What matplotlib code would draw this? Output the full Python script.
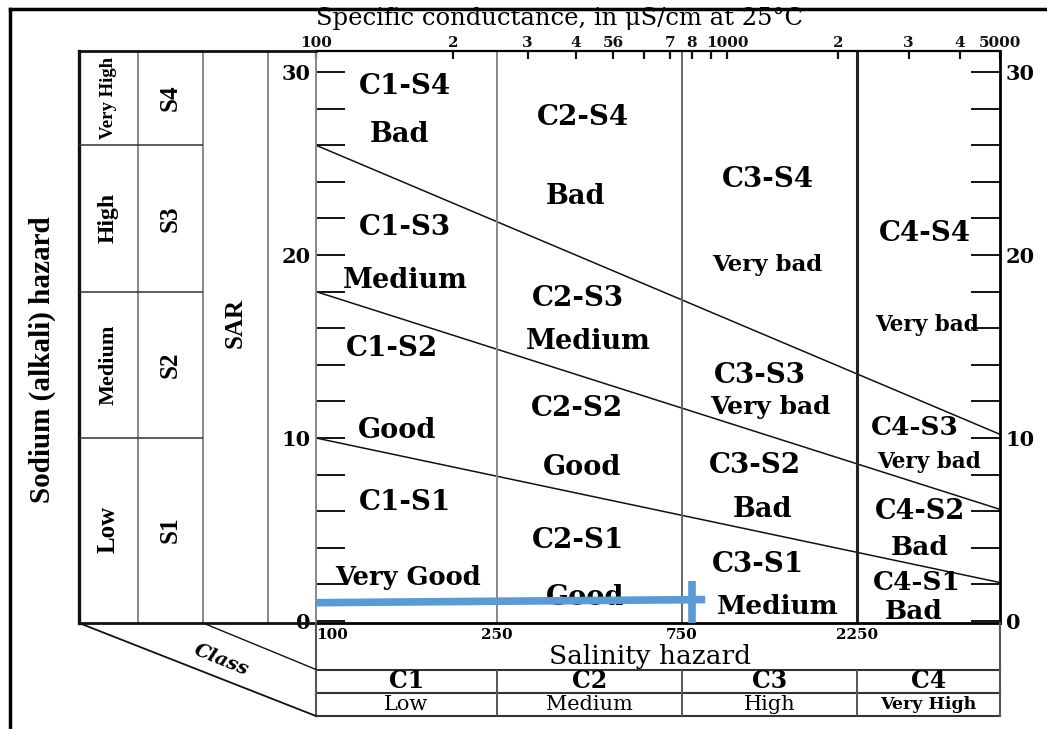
import numpy as np
import matplotlib
matplotlib.use("Agg")
import matplotlib.pyplot as plt
from matplotlib.patches import ConnectionPatch
from matplotlib.lines import Line2D
from matplotlib.ticker import NullLocator

# salinity classes (specific conductance, uS/cm)
ec_edges = [100, 250, 750, 2250, 5000]
c_classes = ["C1", "C2", "C3", "C4"]
c_names = ["Low", "Medium", "High", "Very High"]

# sodium classes (SAR at the left edge of the chart)
sar_edges = [0, 10, 18, 26]
s_classes = ["S1", "S2", "S3", "S4"]
s_names = ["Low", "Medium", "High", "Very High"]

# class boundary lines: SAR at 100 and at 5000 uS/cm
line_sar_left = [10, 18, 26]
line_sar_right = [2.1, 6.1, 10.2]

top_ticks = [100, 200, 300, 400, 500, 600, 700, 800, 900, 1000, 2000, 3000, 4000, 5000]
top_labels = ["100", "2", "3", "4", "56", "", "7", "8", "", "1000", "2", "3", "4", "5000"]
sar_major = [0, 10, 20, 30]
sar_minor = list(range(0, 31, 2))

# zone names
zone_text = ["C1-S4", "Bad", "C1-S3", "Medium", "C1-S2", "Good", "C1-S1", "Very Good",
             "C2-S4", "Bad", "C2-S3", "Medium", "C2-S2", "Good", "C2-S1", "Good",
             "C3-S4", "Very bad", "C3-S3", "Very bad", "C3-S2", "Bad", "C3-S1", "Medium",
             "C4-S4", "Very bad", "C4-S3", "Very bad", "C4-S2", "Bad", "C4-S1", "Bad"]

# sample marker (blue guide lines)
guide_h_ec = [100, 870]
guide_h_sar = [1.0, 1.17]
guide_v_ec = [803, 803]
guide_v_sar = [-0.1, 2.2]

# ---- layout ----
zone_x = [157, 153, 157, 157, 147, 151, 157, 159,
          418, 398, 405, 431, 403, 415, 405, 423,
          1290, 1284, 1228, 1308, 1190, 1243, 1213, 1365,
          3290, 3328, 3112, 3362, 3197, 3197, 3146, 3094]
zone_y = [29.2, 26.6, 21.5, 18.6, 14.9, 10.4, 6.45, 2.4,
          27.5, 23.2, 17.65, 15.25, 11.6, 8.4, 4.4, 1.3,
          24.15, 19.45, 13.4, 11.7, 8.5, 6.07, 3.06, 0.77,
          21.2, 16.2, 10.55, 8.7, 6.0, 4.0, 2.08, 0.5]
zone_size = [20, 19.5, 20, 19.5, 20, 19.5, 20, 18.5,
             20, 19.5, 20, 19.5, 20, 19.5, 20, 19.5,
             20, 16.5, 20, 18, 20, 19.5, 20, 19,
             20, 15.5, 19, 15.5, 19.5, 19, 19, 19]

W, H = 1047, 729
fig = plt.figure(figsize=(W / 100, H / 100), dpi=100)


def fx(px):
    return px / W


def fy(py):
    return 1 - py / H


SERIF = "DejaVu Serif"
NARROW = "Liberation Serif"
YLIM = (-0.11, 31.15)

# piecewise log scale, one segment per salinity class
scale_knots = np.array([0, 1, 2.02, 2.99, 3.78])
log_edges = np.log10(ec_edges)


def fwd(x):
    x = np.asarray(x, dtype=float)
    lx = np.log10(np.where(x > 0, x, 1e-9))
    return np.interp(lx, log_edges, scale_knots)


def inv(u):
    return 10 ** np.interp(np.asarray(u, dtype=float), scale_knots, log_edges)


# main chart
ax = fig.add_axes([fx(316), fy(623), fx(1000) - fx(316), fy(51) - fy(623)])
ax.set_xscale("function", functions=(fwd, inv))
ax.set_xlim(100, 5000)
ax.set_ylim(*YLIM)

for l, r in zip(line_sar_left, line_sar_right):
    ax.plot([ec_edges[0], ec_edges[-1]], [l, r], color="#111", lw=1.1)

ax.axvline(ec_edges[1], color="#888", lw=1.4)
ax.axvline(ec_edges[2], color="#666", lw=1.4)
ax.axvline(ec_edges[3], color="#222", lw=2.2)

for t, x, y, s in zip(zone_text, zone_x, zone_y, zone_size):
    ax.text(x, y, t, ha="center", va="center", family=SERIF,
            fontweight="bold", fontsize=s, zorder=3)

ax.plot(guide_h_ec, guide_h_sar, color="#5B9BD5", lw=5.5,
        solid_capstyle="butt", zorder=6, clip_on=False)
ax.plot(guide_v_ec, guide_v_sar, color="#5B9BD5", lw=5.5,
        solid_capstyle="butt", zorder=6, clip_on=False)

ax.xaxis.tick_top()
ax.set_xticks(top_ticks, top_labels)
ax.xaxis.set_minor_locator(NullLocator())
ax.tick_params(axis="x", direction="in", length=6, width=1.6, pad=1,
               labelsize=11, colors="#111")
for lab in ax.get_xticklabels():
    lab.set_family(SERIF)
    lab.set_fontweight("bold")

ax.set_yticks(sar_major)
ax.set_yticks(sar_minor, minor=True)
ax.tick_params(axis="y", which="both", direction="in", length=21, width=1.3,
               left=True, right=True, labelleft=True, labelright=True,
               labelsize=15, pad=4)
for lab in ax.get_yticklabels():
    lab.set_family(SERIF)
    lab.set_fontweight("bold")

ax.spines["left"].set_color("#888")
ax.spines["left"].set_linewidth(1.4)
ax.spines["top"].set_linewidth(1.6)
ax.spines["right"].set_linewidth(2.0)
ax.spines["bottom"].set_linewidth(2.0)

fig.text(fx(560), fy(18), "Specific conductance, in μS/cm at 25°C",
         ha="center", va="center", family=SERIF, fontsize=17.5)

# left table (sodium hazard classes)
col_edges = [0, 59, 124, 189, 237]
ax_t = fig.add_axes([fx(79), fy(623), fx(316) - fx(79), fy(51) - fy(623)])
ax_t.set_xlim(col_edges[0], col_edges[-1])
ax_t.set_ylim(*YLIM)
ax_t.axis("off")
ax_t.axvline(col_edges[0], color="#111", lw=2.4, clip_on=False)
for c in col_edges[1:4]:
    ax_t.axvline(c, color="#888", lw=1.4)
ax_t.axhline(YLIM[1], color="#111", lw=2.0, clip_on=False)
ax_t.axhline(YLIM[0], color="#111", lw=2.0, clip_on=False)
ax_t.hlines(sar_edges[1:], col_edges[0], col_edges[2], color="#333", lw=1.1)

band_top = sar_edges[1:] + [YLIM[1]]
name_sizes = [18, 16, 17, 13.5]
for lo, hi, sc, nm, ns in zip(sar_edges, band_top, s_classes, s_names, name_sizes):
    mid = (lo + hi) / 2
    ax_t.text((col_edges[0] + col_edges[1]) / 2, mid, nm, rotation=90,
              ha="center", va="center", family=NARROW, fontweight="bold", fontsize=ns)
    ax_t.text((col_edges[1] + col_edges[2]) / 2, mid, sc, rotation=90,
              ha="center", va="center", family=NARROW, fontweight="bold", fontsize=18)
ax_t.text((col_edges[2] + col_edges[3]) / 2, 16.3, "SAR", rotation=90,
          ha="center", va="center", family=NARROW, fontweight="bold", fontsize=18)

fig.text(fx(42), fy(360), "Sodium (alkali) hazard", rotation=90,
         ha="center", va="center", family=NARROW, fontweight="bold", fontsize=21)

# bottom table (salinity hazard classes)
ax_b = fig.add_axes([fx(316), fy(716), fx(1000) - fx(316), fy(623) - fy(716)])
ax_b.set_xscale("function", functions=(fwd, inv))
ax_b.set_xlim(100, 5000)
ax_b.set_ylim(0, 4)
ax_b.axis("off")
for yy in [0, 1, 2]:
    ax_b.axhline(yy, color="#333", lw=1.5, clip_on=False)
ax_b.axvline(ec_edges[0], color="#555", lw=1.5, clip_on=False)
ax_b.axvline(ec_edges[-1], color="#555", lw=1.5, clip_on=False)
ax_b.vlines(ec_edges[1:4], 0, 2, color="#555", lw=1.4)

for i, e in enumerate(ec_edges[:4]):
    ax_b.text(e, 3.5, str(e), ha="left" if i == 0 else "center", va="center",
              family=SERIF, fontweight="bold", fontsize=11)
ax_b.text(0.488, 0.635, "Salinity hazard", transform=ax_b.transAxes,
          ha="center", va="center", family=SERIF, fontsize=19)
for lo, hi, cc, nm in zip(ec_edges[:-1], ec_edges[1:], c_classes, c_names):
    mid = np.sqrt(lo * hi)
    ax_b.text(mid, 1.5, cc, ha="center", va="center", family=SERIF,
              fontweight="bold", fontsize=17)
    ax_b.text(mid, 0.5, nm, ha="center", va="center", family=SERIF,
              fontweight="bold" if nm == "Very High" else "normal",
              fontsize=12.5 if nm == "Very High" else 15)

# "Class" slanted connector
fig.add_artist(ConnectionPatch(xyA=(0, 0), coordsA=ax_t.transAxes,
                               xyB=(0, 0), coordsB=ax_b.transAxes,
                               color="#111", lw=1.3))
fig.add_artist(ConnectionPatch(xyA=(col_edges[2], YLIM[0]), coordsA=ax_t.transData,
                               xyB=(0, 0.5), coordsB=ax_b.transAxes,
                               color="#111", lw=1.0))
fig.text(fx(221), fy(660), "Class", rotation=-22, ha="center", va="center",
         family=SERIF, fontweight="bold", fontstyle="italic", fontsize=14)

# outer frame
fig.add_artist(Line2D([fx(10), fx(10)], [fy(9), 0], color="k", lw=2.5,
                      transform=fig.transFigure))
fig.add_artist(Line2D([fx(10), 1], [fy(9), fy(9)], color="k", lw=2.5,
                      transform=fig.transFigure))

fig.savefig("out.png", dpi=100)
